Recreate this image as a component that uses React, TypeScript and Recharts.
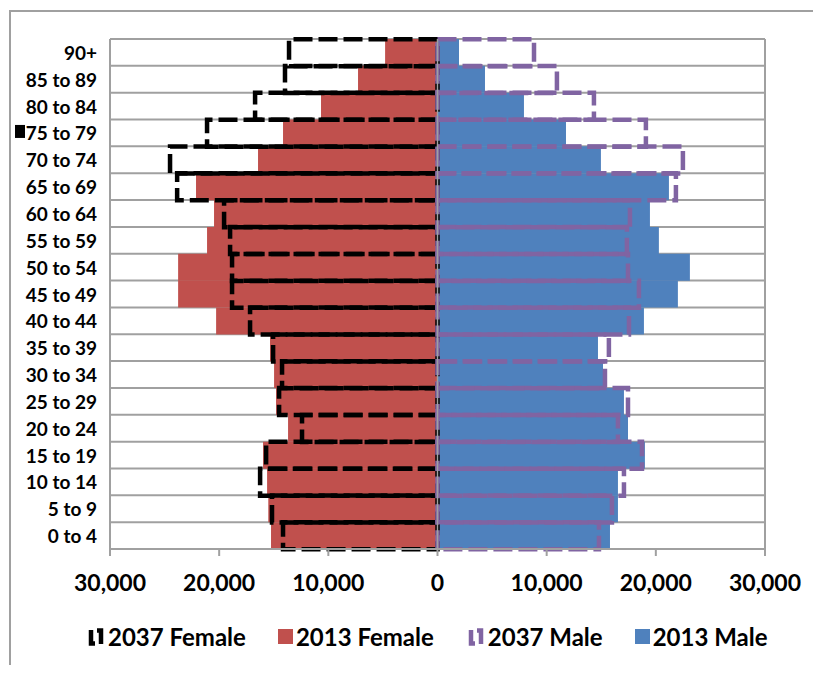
import React from 'react';
import { BarChart, Bar, XAxis, YAxis, CartesianGrid, ReferenceLine, Legend } from 'recharts';

const AGE_GROUPS = ['0 to 4', '5 to 9', '10 to 14', '15 to 19', '20 to 24', '25 to 29', '30 to 34', '35 to 39', '40 to 44', '45 to 49', '50 to 54', '55 to 59', '60 to 64', '65 to 69', '70 to 74', '75 to 79', '80 to 84', '85 to 89', '90+'];

const FEMALE_2013 = [15250, 15500, 15610, 15980, 13690, 14790, 14970, 15340, 20280, 23760, 23760, 21110, 20470, 22120, 16440, 14150, 10670, 7280, 4800];
const FEMALE_2037 = [14150, 15160, 16250, 15700, 12410, 14510, 14240, 15060, 17170, 18820, 18820, 19000, 19550, 23850, 24500, 21110, 16710, 13970, 13600];
const MALE_2013 = [15800, 16530, 16530, 19000, 17450, 17080, 15160, 14700, 18910, 22020, 23120, 20280, 19460, 21200, 14970, 11770, 7920, 4350, 1970];
const MALE_2037 = [14790, 15980, 17080, 18730, 16530, 17450, 15340, 15700, 17540, 18450, 17450, 17350, 17630, 21840, 22480, 19090, 14330, 10940, 8840];

const X_TICKS = [-30000, -20000, -10000, 0, 10000, 20000, 30000];
const MARKED_LABEL = '75 to 79';

const RED = '#C0504D';
const BLUE = '#4F81BD';
const PURPLE = '#8064A2';
const GRID = '#A0A0A0';

const data = AGE_GROUPS.map((age, i) => ({
  age,
  f2013: -FEMALE_2013[i],
  m2013: MALE_2013[i],
  f2037: -FEMALE_2037[i],
  m2037: MALE_2037[i],
}));

const LEGEND_ITEMS = [
  { name: '2037 Female', kind: 'dash', color: '#000000' },
  { name: '2013 Female', kind: 'fill', color: RED },
  { name: '2037 Male', kind: 'dash', color: PURPLE },
  { name: '2013 Male', kind: 'fill', color: BLUE },
];

const fmt = (v: number) => Math.abs(v).toLocaleString('en-US');

const YTick = (props: any) => {
  const { x, y, payload } = props;
  return (
    <g>
      {payload.value === MARKED_LABEL && (
        <rect x={7} y={y - 8} width={10} height={13} fill="#000" />
      )}
      <text x={x} y={y} textAnchor="end" dominantBaseline="central" fontSize={19} fontWeight="bold" fill="#000" fontFamily="Lato">
        {payload.value}
      </text>
    </g>
  );
};

const DashIcon = ({ color }: { color: string }) => (
  <svg width={20} height={18} style={{ marginRight: 2 }}>
    <path d="M5 2 V15.5 H9" fill="none" stroke={color} strokeWidth={4.5} />
    <path d="M11 2.5 H15 V16" fill="none" stroke={color} strokeWidth={4.5} />
  </svg>
);

const LegendContent = () => (
  <div style={{ display: 'flex', alignItems: 'center', fontFamily: 'Lato', fontWeight: 'bold', fontSize: 24, color: '#000', whiteSpace: 'nowrap' }}>
    {LEGEND_ITEMS.map((it) => (
      <div key={it.name} style={{ display: 'flex', alignItems: 'center', marginRight: 32 }}>
        {it.kind === 'fill' ? (
          <svg width={15} height={15} style={{ marginRight: 3 }}>
            <rect x={0} y={0} width={15} height={15} fill={it.color} />
          </svg>
        ) : (
          <DashIcon color={it.color} />
        )}
        <span>{it.name}</span>
      </div>
    ))}
  </div>
);

export default function App() {
  return (
    <div style={{ position: 'relative' }}>
      <div style={{ position: 'absolute', left: 1, top: 2, width: 812, height: 663, boxSizing: 'border-box', borderTop: `2px solid ${GRID}`, borderLeft: `2px solid ${GRID}` }} />
      <BarChart
        width={805}
        height={657}
        data={data}
        layout="vertical"
        stackOffset="sign"
        barCategoryGap={0}
        barGap="-100%"
        margin={{ top: 31, right: 48, bottom: 56, left: 0 }}
        style={{ fontFamily: 'Lato' }}
      >
        <CartesianGrid
          stroke={GRID}
          strokeWidth={2}
          horizontalCoordinatesGenerator={({ offset }: any) =>
            Array.from({ length: AGE_GROUPS.length + 1 }, (_, i) => offset.top + (i * offset.height) / AGE_GROUPS.length)
          }
          verticalCoordinatesGenerator={({ offset }: any) => [offset.left, offset.left + offset.width]}
        />
        <XAxis
          type="number"
          domain={[-30000, 30000]}
          ticks={X_TICKS}
          tickFormatter={fmt}
          height={60}
          axisLine={{ stroke: GRID, strokeWidth: 2 }}
          tickLine={{ stroke: GRID, strokeWidth: 2 }}
          tickSize={7}
          tickMargin={19}
          tick={{ fontSize: 23, fontWeight: 'bold', fill: '#000', fontFamily: 'Lato' }}
          allowDataOverflow
        />
        <YAxis
          type="category"
          dataKey="age"
          reversed
          width={102}
          axisLine={false}
          tickLine={false}
          tickSize={0}
          tickMargin={13}
          interval={0}
          tick={<YTick />}
        />
        <Bar dataKey="f2013" stackId="a" fill={RED} isAnimationActive={false} name="2013 Female" />
        <Bar dataKey="m2013" stackId="a" fill={BLUE} isAnimationActive={false} name="2013 Male" />
        <Bar dataKey="f2037" stackId="b" fill="none" stroke="#000" strokeWidth={4.5} strokeDasharray="19 6" isAnimationActive={false} name="2037 Female" />
        <Bar dataKey="m2037" stackId="b" fill="none" stroke={PURPLE} strokeWidth={4.5} strokeDasharray="19 6" isAnimationActive={false} name="2037 Male" />
        <ReferenceLine x={0} stroke={GRID} strokeWidth={1.5} />
        <Legend
          layout="horizontal"
          verticalAlign="middle"
          align="center"
          content={<LegendContent />}
          wrapperStyle={{ left: 78, top: 614, width: 720, height: 30 }}
        />
      </BarChart>
    </div>
  );
}
